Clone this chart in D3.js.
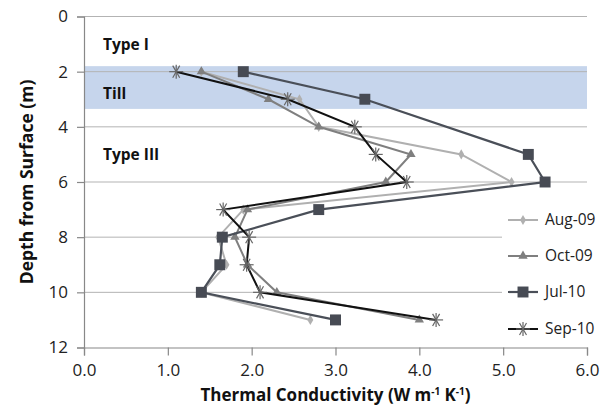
<!DOCTYPE html>
<html>
<head>
<meta charset="utf-8">
<script src="https://cdn.jsdelivr.net/npm/d3@7"></script>
<style>
  body { margin: 0; background: #fff; }
  svg { font-family: "Open Sans", "DejaVu Sans", sans-serif; }
</style>
</head>
<body>
<div id="plot"></div>
<script>
// depths (m) where readings were taken
const depths = [2, 3, 4, 5, 6, 7, 8, 9, 10, 11];

// thermal conductivity per campaign (null = no reading)
const aug09 = [1.4, 2.57, 2.8, 4.5, 5.1, 1.9, 1.6, 1.7, 1.4, 2.7];
const oct09 = [1.4, 2.2, 2.8, 3.9, 3.6, 1.95, 1.8, 1.95, 2.3, 4.0];
const jul10 = [1.9, 3.35, null, 5.3, 5.5, 2.8, 1.65, 1.62, 1.4, 3.0];
const sep10 = [1.1, 2.43, 3.23, 3.48, 3.85, 1.66, 1.97, 1.94, 2.1, 4.2];

const seriesNames = ["Aug-09", "Oct-09", "Jul-10", "Sep-10"];
const xTicks = [0, 1, 2, 3, 4, 5, 6];
const yTicks = [0, 2, 4, 6, 8, 10, 12];

// soil layers
const layerNames = ["Type I", "Till", "Type III"];
const layerLabelDepth = [1.0, 2.78, 5.0];
const tillBand = [1.8, 3.35];

const width = 610, height = 411;
const margin = {top: 16.5, right: 23, bottom: 63.5, left: 84};

const svg = d3.select("#plot").append("svg")
  .attr("width", width)
  .attr("height", height);

const x = d3.scaleLinear([0, 6], [margin.left, width - margin.right]);
const y = d3.scaleLinear([0, 12], [margin.top, height - margin.bottom]);

// Till band
svg.append("rect")
  .attr("x", x(0))
  .attr("y", y(tillBand[0]))
  .attr("width", x(6) - x(0))
  .attr("height", y(tillBand[1]) - y(tillBand[0]))
  .attr("fill", "#c6d5ec");

// gridlines
svg.append("g")
  .selectAll("line")
  .data(yTicks.slice(0, -1))
  .join("line")
    .attr("x1", x(0))
    .attr("x2", x(6))
    .attr("y1", d => y(d))
    .attr("y2", d => y(d))
    .attr("stroke", "#b3b3b3")
    .attr("stroke-width", 1);

// axes
const xAxis = d3.axisBottom(x)
  .tickValues(xTicks)
  .tickFormat(d3.format(".1f"))
  .tickSize(8);
const yAxis = d3.axisLeft(y)
  .tickValues(yTicks)
  .tickFormat(d3.format("d"))
  .tickSize(7);

const xG = svg.append("g")
  .attr("transform", `translate(0, ${y(12)})`)
  .call(xAxis);
const yG = svg.append("g")
  .attr("transform", `translate(${x(0)}, 0)`)
  .call(yAxis);

[xG, yG].forEach(g => {
  g.select(".domain").attr("stroke", "#888").attr("stroke-width", 1.2);
  g.selectAll(".tick line").attr("stroke", "#888").attr("stroke-width", 1.2);
  g.selectAll(".tick text")
    .attr("fill", "#222")
    .style("font-size", "17px")
    .style("font-family", "'Open Sans', sans-serif");
});
xG.selectAll(".tick text").attr("dy", "1.02em");
yG.selectAll(".tick text").attr("dx", "-6");

// axis titles
svg.append("text")
  .attr("x", (x(0) + x(6)) / 2)
  .attr("y", 401)
  .attr("text-anchor", "middle")
  .style("font-size", "17px")
  .style("font-weight", "bold")
  .attr("fill", "#111")
  .html('Thermal Conductivity (W m<tspan dy="-6" font-size="10px">-1</tspan><tspan dy="6"> K</tspan><tspan dy="-6" font-size="10px">-1</tspan><tspan dy="6">)</tspan>');

svg.append("text")
  .attr("transform", `translate(33, ${(y(0) + y(12)) / 2}) rotate(-90)`)
  .attr("text-anchor", "middle")
  .style("font-size", "17.5px")
  .style("font-weight", "bold")
  .attr("fill", "#111")
  .text("Depth from Surface (m)");

// layer labels
svg.append("g")
  .selectAll("text")
  .data(layerNames)
  .join("text")
    .attr("x", 103)
    .attr("y", (d, i) => y(layerLabelDepth[i]))
    .attr("dy", "0.35em")
    .style("font-size", "15.5px")
    .style("font-weight", "bold")
    .attr("fill", "#111")
    .text(d => d);

// legend (white background hides gridlines)
const legendY = [220, 256, 292, 329];
const legend = svg.append("g");
legend.append("rect")
  .attr("x", 502).attr("y", 203)
  .attr("width", 108).attr("height", 143)
  .attr("fill", "#fff");

const styles = [
  {color: "#b0b0b0", mark: "diamond", size: 30, width: 2, markColor: "#b0b0b0"},
  {color: "#7f7f7f", mark: "triangle", size: 38, width: 2, markColor: "#7f7f7f"},
  {color: "#4a4f58", mark: "square", size: 120, width: 2.2, markColor: "#474b54"},
  {color: "#111111", mark: "cross", size: 0, width: 2, markColor: "#666"}
];
const allSeries = [aug09, oct09, jul10, sep10];

const symbolFor = s => s.mark === "diamond" ? d3.symbolDiamond
  : s.mark === "triangle" ? d3.symbolTriangle : d3.symbolSquare;

const asterisk = (g, cx, cy, r, color) => {
  const a = g.append("g").attr("transform", `translate(${cx},${cy})`);
  [0, 60, 120].forEach(ang => {
    const t = ang * Math.PI / 180;
    a.append("line")
      .attr("x1", -r * Math.cos(t)).attr("y1", -r * Math.sin(t))
      .attr("x2", r * Math.cos(t)).attr("y2", r * Math.sin(t))
      .attr("stroke", color).attr("stroke-width", 1.2);
  });
  a.append("line")
    .attr("x1", 0).attr("y1", -r).attr("x2", 0).attr("y2", r)
    .attr("stroke", color).attr("stroke-width", 1.2);
};

const line = d3.line()
  .x(d => x(d[0]))
  .y(d => y(d[1]));

allSeries.forEach((vals, i) => {
  const s = styles[i];
  const pts = vals.map((v, j) => [v, depths[j]]).filter(p => p[0] != null);
  const g = svg.append("g");
  g.append("path")
    .datum(pts)
    .attr("d", line)
    .attr("fill", "none")
    .attr("stroke", s.color)
    .attr("stroke-width", s.width);
  pts.forEach(p => {
    if (s.mark === "cross") {
      asterisk(g, x(p[0]), y(p[1]), 7, s.markColor);
    } else {
      g.append("path")
        .attr("d", d3.symbol(symbolFor(s), s.size)())
        .attr("transform", `translate(${x(p[0])},${y(p[1])})`)
        .attr("fill", s.markColor);
    }
  });

  // legend entry
  const ly = legendY[i];
  legend.append("line")
    .attr("x1", 508).attr("x2", 538)
    .attr("y1", ly).attr("y2", ly)
    .attr("stroke", s.color).attr("stroke-width", s.width);
  if (s.mark === "cross") {
    asterisk(legend, 523, ly, 7, s.markColor);
  } else {
    legend.append("path")
      .attr("d", d3.symbol(symbolFor(s), s.size)())
      .attr("transform", `translate(523,${ly})`)
      .attr("fill", s.markColor);
  }
  legend.append("text")
    .attr("x", 545).attr("y", ly)
    .attr("dy", "0.35em")
    .style("font-size", "15.5px")
    .attr("fill", "#222")
    .text(seriesNames[i]);
});
</script>
</body>
</html>
